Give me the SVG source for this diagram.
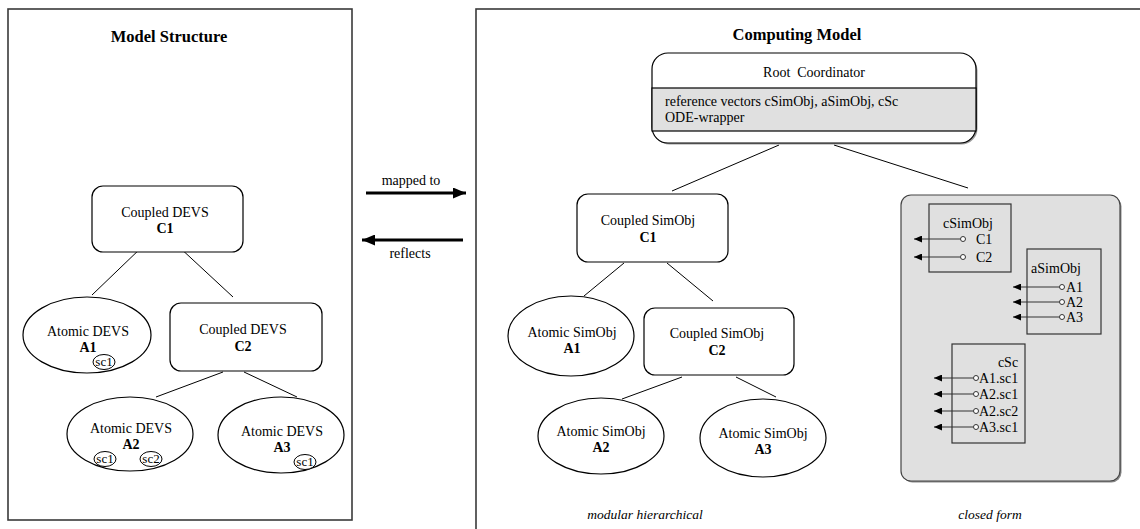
<svg xmlns="http://www.w3.org/2000/svg" width="1140" height="529" viewBox="0 0 1140 529">
<defs>
<marker id="bigArrow" markerUnits="userSpaceOnUse" markerWidth="13" markerHeight="11" refX="13" refY="5.5" orient="auto">
<path d="M0,0 L13,5.5 L0,11 z" fill="#000"/>
</marker>
<marker id="smallArrow" markerUnits="userSpaceOnUse" markerWidth="8" markerHeight="7" refX="8" refY="3.5" orient="auto">
<path d="M0,0 L8,3.5 L0,7 z" fill="#000"/>
</marker>
</defs>
<style>
text{font-family:"Liberation Serif","Times New Roman","DejaVu Serif",serif;font-size:14px;fill:#000}
.t{text-anchor:middle}
.b{font-weight:bold}
.title{font-size:16.5px;font-weight:bold;text-anchor:middle}
.it{font-style:italic;text-anchor:middle;font-size:13.5px}
.box{fill:#fff;stroke:#000;stroke-width:1.2}
.ell{fill:#fff;stroke:#000;stroke-width:1.2}
.sc{fill:#fff;stroke:#000;stroke-width:1}
.sct{font-size:13px;text-anchor:middle}
.panel{fill:none;stroke:#3a3a3a;stroke-width:1.6}
.edge{stroke:#000;stroke-width:1;fill:none}
.ref{stroke:#333;stroke-width:1.2;fill:none}
.pin{fill:#fff;stroke:#333;stroke-width:1}
.sbox{fill:none;stroke:#333;stroke-width:1.2}
</style>
<rect width="1140" height="529" fill="#fff"/>

<g id="panel-model">
<rect class="panel" x="8" y="9" width="344" height="511"/>
<text class="title" x="169" y="42">Model Structure</text>
</g>
<g id="panel-computing">
<rect class="panel" x="476" y="9" width="680" height="540"/>
<text class="title" x="797" y="40">Computing Model</text>
<text class="it" x="645" y="519">modular hierarchical</text>
<text class="it" x="990" y="519">closed form</text>
</g>

<g id="connectors">
<line class="edge" x1="143" y1="246" x2="92" y2="295"/>
<line class="edge" x1="178" y1="246" x2="233" y2="297"/>
<line class="edge" x1="223" y1="372" x2="156" y2="397"/>
<line class="edge" x1="244" y1="372" x2="297" y2="397"/>
<line class="edge" x1="779" y1="145" x2="672" y2="191"/>
<line class="edge" x1="834" y1="145" x2="968" y2="188"/>
<line class="edge" x1="624" y1="263" x2="584" y2="296"/>
<line class="edge" x1="667" y1="263" x2="713" y2="301"/>
<line class="edge" x1="682" y1="377" x2="622" y2="399"/>
<line class="edge" x1="736" y1="377" x2="776" y2="397"/>
<line x1="366" y1="193" x2="466" y2="193" stroke="#000" stroke-width="3" marker-end="url(#bigArrow)"/>
<text class="t" x="411" y="185">mapped to</text>
<line x1="463" y1="240" x2="362" y2="240" stroke="#000" stroke-width="3" marker-end="url(#bigArrow)"/>
<text class="t" x="410" y="258">reflects</text>
</g>

<g id="devs-c1">
<rect class="box" x="92" y="186" width="151" height="66" rx="11"/>
<text class="t" x="165" y="217">Coupled DEVS</text>
<text class="t b" x="165" y="233">C1</text>
</g>
<g id="devs-a1">
<ellipse class="ell" cx="87" cy="335" rx="64" ry="38"/>
<text class="t" x="88" y="336">Atomic DEVS</text>
<text class="t b" x="88" y="352">A1</text>
<ellipse class="sc" cx="104" cy="362" rx="11" ry="7.5"/>
<text class="sct" x="104" y="366">sc1</text>
</g>
<g id="devs-c2">
<rect class="box" x="170" y="303" width="152" height="68" rx="11"/>
<text class="t" x="243" y="334">Coupled DEVS</text>
<text class="t b" x="243" y="351">C2</text>
</g>
<g id="devs-a2">
<ellipse class="ell" cx="130" cy="434" rx="63" ry="37"/>
<text class="t" x="131" y="433">Atomic DEVS</text>
<text class="t b" x="131" y="449">A2</text>
<ellipse class="sc" cx="105" cy="459" rx="11" ry="7.5"/>
<text class="sct" x="105" y="463">sc1</text>
<ellipse class="sc" cx="151" cy="459" rx="11" ry="7.5"/>
<text class="sct" x="151" y="463">sc2</text>
</g>
<g id="devs-a3">
<ellipse class="ell" cx="281" cy="435" rx="63" ry="38"/>
<text class="t" x="282" y="436">Atomic DEVS</text>
<text class="t b" x="282" y="452">A3</text>
<ellipse class="sc" cx="305" cy="462" rx="11" ry="7.5"/>
<text class="sct" x="305" y="466">sc1</text>
</g>

<g id="root-coordinator">
<rect x="653.5" y="54.5" width="324" height="90" rx="16" fill="#999"/>
<rect class="box" x="652" y="53" width="324" height="90" rx="16"/>
<rect x="652" y="88" width="324" height="43" fill="#e0e0e0" stroke="#000" stroke-width="1.2"/>
<text class="t" x="814" y="77">Root&#160; Coordinator</text>
<text x="665" y="106">reference vectors cSimObj, aSimObj, cSc</text>
<text x="665" y="122">ODE-wrapper</text>
</g>

<g id="sim-c1">
<rect class="box" x="577" y="194" width="151" height="68" rx="11"/>
<text class="t" x="648" y="225">Coupled SimObj</text>
<text class="t b" x="648" y="242">C1</text>
</g>
<g id="sim-a1">
<ellipse class="ell" cx="571" cy="336" rx="63" ry="40"/>
<text class="t" x="572" y="337">Atomic SimObj</text>
<text class="t b" x="572" y="353">A1</text>
</g>
<g id="sim-c2">
<rect class="box" x="644" y="308" width="150" height="67" rx="11"/>
<text class="t" x="717" y="338">Coupled SimObj</text>
<text class="t b" x="717" y="355">C2</text>
</g>
<g id="sim-a2">
<ellipse class="ell" cx="601" cy="436" rx="63" ry="38"/>
<text class="t" x="601" y="436">Atomic SimObj</text>
<text class="t b" x="601" y="452">A2</text>
</g>
<g id="sim-a3">
<ellipse class="ell" cx="763" cy="438" rx="63" ry="39"/>
<text class="t" x="763" y="438">Atomic SimObj</text>
<text class="t b" x="763" y="454">A3</text>
</g>

<g id="closed-form">
<rect x="902.5" y="196.5" width="219" height="286" rx="10" fill="#888"/>
<rect x="901" y="195" width="219" height="286" rx="10" fill="#e0e0e0" stroke="#444" stroke-width="1.2"/>
</g>
<g id="cSimObj">
<rect class="sbox" x="929" y="204" width="82" height="68"/>
<text class="t" x="968" y="228">cSimObj</text>
<line class="ref" x1="960.5" y1="239" x2="914" y2="239" marker-end="url(#smallArrow)"/>
<line class="ref" x1="960.5" y1="257" x2="914" y2="257" marker-end="url(#smallArrow)"/>
<circle class="pin" cx="963" cy="239" r="2.5"/>
<circle class="pin" cx="963" cy="257" r="2.5"/>
<text x="976" y="244">C1</text>
<text x="976" y="262">C2</text>
</g>
<g id="aSimObj">
<rect class="sbox" x="1027" y="249" width="74" height="85"/>
<text class="t" x="1056" y="273">aSimObj</text>
<line class="ref" x1="1059.5" y1="287" x2="1013" y2="287" marker-end="url(#smallArrow)"/>
<line class="ref" x1="1059.5" y1="302" x2="1013" y2="302" marker-end="url(#smallArrow)"/>
<line class="ref" x1="1059.5" y1="317" x2="1013" y2="317" marker-end="url(#smallArrow)"/>
<circle class="pin" cx="1062" cy="287" r="2.5"/>
<circle class="pin" cx="1062" cy="302" r="2.5"/>
<circle class="pin" cx="1062" cy="317" r="2.5"/>
<text x="1066" y="292">A1</text>
<text x="1066" y="307">A2</text>
<text x="1066" y="322">A3</text>
</g>
<g id="cSc">
<rect class="sbox" x="952" y="344" width="73" height="99"/>
<text class="t" x="1008" y="367">cSc</text>
<line class="ref" x1="973.5" y1="378" x2="934" y2="378" marker-end="url(#smallArrow)"/>
<line class="ref" x1="973.5" y1="394" x2="934" y2="394" marker-end="url(#smallArrow)"/>
<line class="ref" x1="973.5" y1="411" x2="934" y2="411" marker-end="url(#smallArrow)"/>
<line class="ref" x1="973.5" y1="427" x2="934" y2="427" marker-end="url(#smallArrow)"/>
<circle class="pin" cx="976" cy="378" r="2.5"/>
<circle class="pin" cx="976" cy="394" r="2.5"/>
<circle class="pin" cx="976" cy="411" r="2.5"/>
<circle class="pin" cx="976" cy="427" r="2.5"/>
<text x="979" y="383">A1.sc1</text>
<text x="979" y="399">A2.sc1</text>
<text x="979" y="416">A2.sc2</text>
<text x="979" y="432">A3.sc1</text>
</g>
</svg>
